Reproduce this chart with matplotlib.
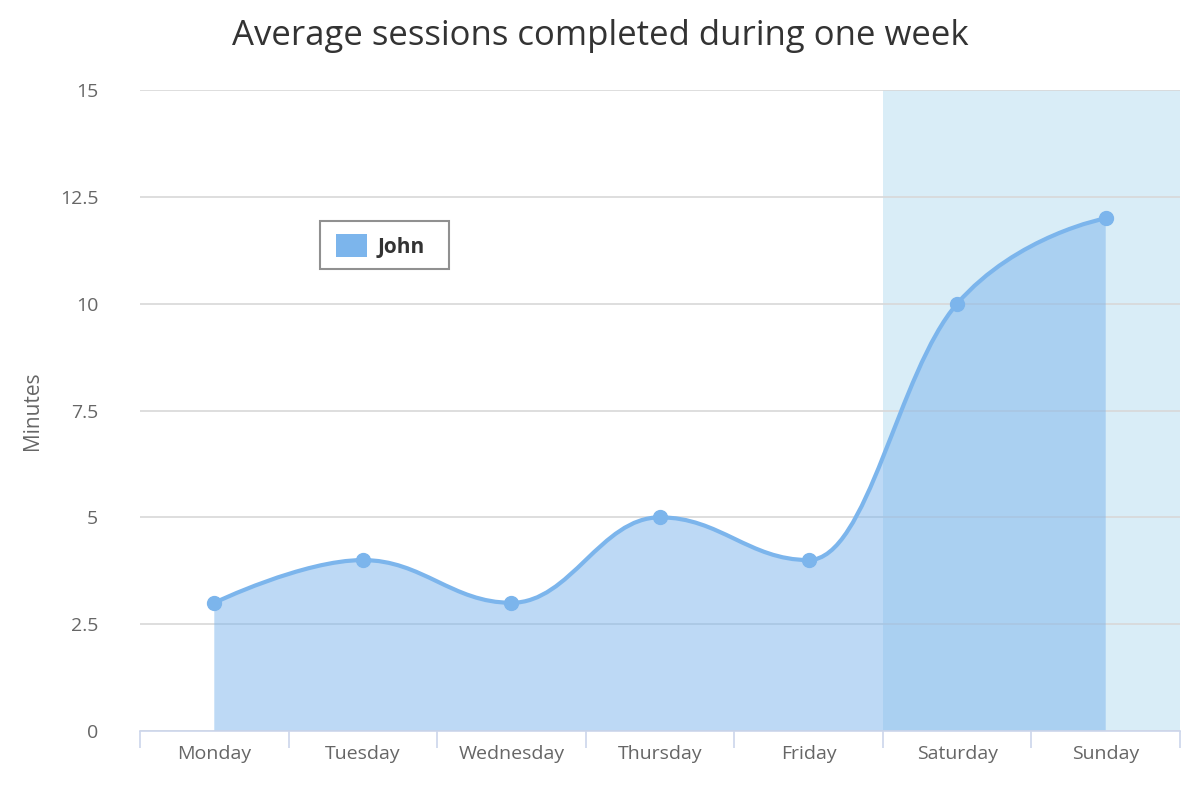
import numpy as np
import matplotlib
matplotlib.use("Agg")
import matplotlib.pyplot as plt
from matplotlib.path import Path
from matplotlib.patches import PathPatch, Rectangle

days = ["Monday", "Tuesday", "Wednesday", "Thursday", "Friday", "Saturday", "Sunday"]
john = [3, 4, 3, 5, 4, 10, 12]
yticks = [0, 2.5, 5, 7.5, 10, 12.5, 15]
ytick_labels = ["0", "2.5", "5", "7.5", "10", "12.5", "15"]

plt.rcParams["font.family"] = ["Open Sans", "DejaVu Sans"]
LINE = "#7cb5ec"


def spline_path(xs, ys, sm=1.5):
    # Highcharts-style spline control points
    n = len(xs)
    lc, rc = [None] * n, [None] * n
    for i in range(1, n - 1):
        x, y = xs[i], ys[i]
        lx = (sm * x + xs[i - 1]) / (sm + 1); ly = (sm * y + ys[i - 1]) / (sm + 1)
        rx = (sm * x + xs[i + 1]) / (sm + 1); ry = (sm * y + ys[i + 1]) / (sm + 1)
        corr = ((ry - ly) * (rx - x)) / (rx - lx) + y - ry
        ly += corr; ry += corr
        if ly > max(ys[i - 1], y):
            ly = max(ys[i - 1], y); ry = 2 * y - ly
        elif ly < min(ys[i - 1], y):
            ly = min(ys[i - 1], y); ry = 2 * y - ly
        if ry > max(ys[i + 1], y):
            ry = max(ys[i + 1], y); ly = 2 * y - ry
        elif ry < min(ys[i + 1], y):
            ry = min(ys[i + 1], y); ly = 2 * y - ry
        lc[i] = (lx, ly); rc[i] = (rx, ry)
    verts = [(xs[0], ys[0])]
    codes = [Path.MOVETO]
    for i in range(1, n):
        c1 = rc[i - 1] or (xs[i - 1], ys[i - 1])
        c2 = lc[i] or (xs[i], ys[i])
        verts += [c1, c2, (xs[i], ys[i])]
        codes += [Path.CURVE4] * 3
    return verts, codes


fig = plt.figure(figsize=(12, 8), dpi=100)
ax = fig.add_axes([140 / 1200, 69 / 800, 1040 / 1200, 641 / 800])
x = np.arange(len(days))
ax.set_xlim(-0.5, 6.5)
ax.set_ylim(0, 15)

ax.axvspan(4.5, 6.5, color="#d9edf7", zorder=0, lw=0)

verts, codes = spline_path(list(x), john)
ax.add_patch(PathPatch(Path(verts, codes), fill=False, edgecolor=LINE, lw=3, zorder=3))
fv = verts + [(x[-1], 0), (x[0], 0), (x[0], john[0])]
fc = codes + [Path.LINETO, Path.LINETO, Path.CLOSEPOLY]
ax.add_patch(PathPatch(Path(fv, fc), facecolor=LINE, alpha=0.5, edgecolor="none", zorder=2))
ax.plot(x, john, "o", color=LINE, ms=10, zorder=4)

ax.set_yticks(yticks)
ax.set_yticklabels(ytick_labels)
ax.set_xticks(x)
ax.set_xticklabels(days)
ax.set_xticks(np.arange(-0.5, 7, 1), minor=True)
ax.tick_params(axis="y", length=0, labelsize=14, labelcolor="#666666", pad=30)
ax.tick_params(axis="x", which="major", length=0, labelsize=14, labelcolor="#666666", pad=10)
ax.tick_params(axis="x", which="minor", length=12, color="#ccd6eb", width=1.2)
ax.grid(axis="y", color="#d8d8d8", lw=1.2, zorder=1)
for s in ["top", "right", "left"]:
    ax.spines[s].set_visible(False)
ax.spines["bottom"].set_color("#ccd6eb")
ax.spines["bottom"].set_linewidth(1.2)
for lab in ax.get_yticklabels():
    lab.set_horizontalalignment("right")
ax.yaxis.set_tick_params(pad=30)
ax.set_ylabel("Minutes", fontsize=15, color="#666666", labelpad=12)

fig.text(0.5, 0.955, "Average sessions completed during one week", ha="center",
         va="center", fontsize=25, color="#333333")

# floating legend
fig.patches.append(Rectangle((320 / 1200, 1 - 269 / 800), 129 / 1200, 48 / 800,
                             transform=fig.transFigure, facecolor="white",
                             edgecolor="#909090", lw=1.5, zorder=5))
fig.patches.append(Rectangle((336 / 1200, 1 - 257 / 800), 31 / 1200, 23 / 800,
                             transform=fig.transFigure, facecolor=LINE,
                             edgecolor="none", zorder=6))
fig.text(378 / 1200, 1 - 247 / 800, "John", fontsize=15, fontweight="bold",
         color="#333333", va="center", zorder=7)

fig.savefig("out.png", dpi=100)
